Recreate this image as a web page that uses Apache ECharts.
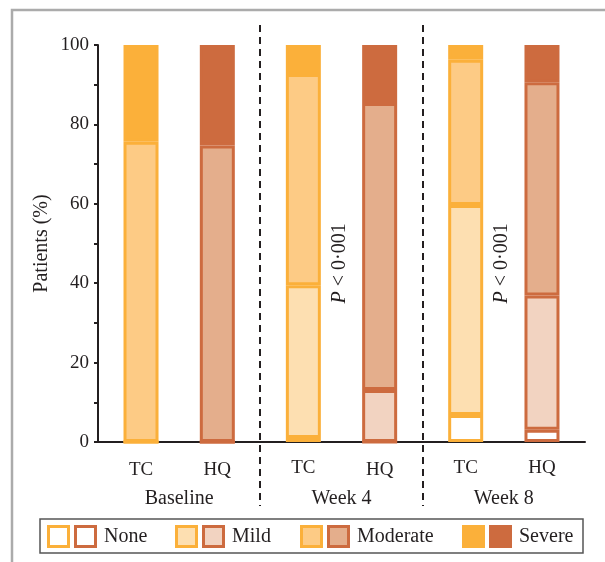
<!DOCTYPE html>
<html>
<head>
<meta charset="utf-8">
<script src="https://cdn.jsdelivr.net/npm/echarts@6/dist/echarts.min.js"></script>
<style>
  html, body { margin: 0; padding: 0; background: #fff; }
  #chart { width: 605px; height: 562px; }
</style>
</head>
<body>
<div id="chart"></div>
<script>
// Severity of patients (%) per visit, stacked for each treatment arm
const groups = ['Baseline', 'Week 4', 'Week 8'];
const levels = ['None', 'Mild', 'Moderate', 'Severe'];
const arms = ['TC', 'HQ'];

const tcNone = [0, 1, 6.8];
const tcMild = [0, 38.5, 52.9];
const tcModerate = [75.6, 53.2, 36.6];
const tcSevere = [24.4, 7.3, 3.7];

const hqNone = [0, 0, 3.1];
const hqMild = [0, 13.1, 33.8];
const hqModerate = [74.7, 72.3, 53.7];
const hqSevere = [25.3, 14.6, 9.4];

const pLabel = 'P < 0·001';
const pGroups = ['Week 4', 'Week 8'];
const pLevel = 45;

const yTicks = [0, 20, 40, 60, 80, 100];

const SERIF = '"Liberation Serif", "DejaVu Serif", serif';
const INK = '#231F20';

const armStyle = {
  TC: { border: '#FBB03A', fills: ['#FFFFFF', '#FDDFB1', '#FDCB85', '#FBB03A'] },
  HQ: { border: '#CD6B3F', fills: ['#FFFFFF', '#F2D3C1', '#E4AE8C', '#CD6B3F'] }
};

const armData = {
  TC: [tcNone, tcMild, tcModerate, tcSevere],
  HQ: [hqNone, hqMild, hqModerate, hqSevere]
};

const series = [];
arms.forEach(function (arm) {
  levels.forEach(function (level, li) {
    const s = {
      name: arm + ' ' + level,
      type: 'bar',
      stack: arm,
      barWidth: 35,
      barGap: '118%',
      data: armData[arm][li],
      itemStyle: {
        color: armStyle[arm].fills[li],
        borderColor: armStyle[arm].border,
        borderWidth: 3
      },
      emphasis: { disabled: true }
    };
    if (li === 0) {
      s.label = {
        show: true,
        position: 'bottom',
        distance: 17,
        formatter: arm,
        color: INK,
        fontFamily: SERIF,
        fontSize: 19
      };
    }
    series.push(s);
  });
});

const chart = echarts.init(document.getElementById('chart'));

chart.setOption({
  animation: false,
  backgroundColor: '#fff',
  grid: { left: 98, right: 20, top: 45, bottom: 120 },
  xAxis: {
    type: 'category',
    data: groups,
    boundaryGap: true,
    axisLine: { lineStyle: { color: INK, width: 2 } },
    axisTick: { show: false },
    axisLabel: { color: INK, fontFamily: SERIF, fontSize: 20, margin: 47 }
  },
  yAxis: {
    type: 'value',
    min: 0,
    max: 100,
    interval: 20,
    name: 'Patients (%)',
    nameLocation: 'middle',
    nameGap: 46,
    nameMoveOverlap: false,
    nameTextStyle: { color: INK, fontFamily: SERIF, fontSize: 20 },
    axisLine: { show: true, lineStyle: { color: INK, width: 2 } },
    axisTick: { show: true, length: 4, lineStyle: { color: INK, width: 2 } },
    minorTick: { show: true, splitNumber: 2, length: 4, lineStyle: { color: INK, width: 2 } },
    splitLine: { show: false },
    axisLabel: {
      color: INK, fontFamily: SERIF, fontSize: 19, margin: 9,
      formatter: function (v) { return yTicks.indexOf(v) >= 0 ? String(v) : ''; }
    }
  },
  series: series
});

// Overlay: frame, separators between visits, P-value notes and legend
const graphics = [];

graphics.push({
  type: 'rect',
  shape: { x: 12, y: 10, width: 620, height: 580 },
  style: { fill: 'none', stroke: '#ABABAB', lineWidth: 2.5 },
  silent: true, z: 0
});

for (let i = 0; i < groups.length - 1; i++) {
  const a = chart.convertToPixel({ xAxisIndex: 0 }, groups[i]);
  const b = chart.convertToPixel({ xAxisIndex: 0 }, groups[i + 1]);
  const x = Math.round((a + b) / 2);
  graphics.push({
    type: 'line',
    shape: { x1: x, y1: 25, x2: x, y2: 506 },
    style: { stroke: INK, lineWidth: 2, lineDash: [7, 5] },
    silent: true, z: 10
  });
}

pGroups.forEach(function (g) {
  const pt = chart.convertToPixel({ xAxisIndex: 0, yAxisIndex: 0 }, [g, pLevel]);
  const parts = pLabel.split(' ');
  graphics.push({
    type: 'text',
    x: pt[0] - 2,
    y: pt[1],
    rotation: Math.PI / 2,
    style: {
      text: '{i|' + parts[0] + '} ' + parts.slice(1).join(' '),
      rich: { i: { fontStyle: 'italic', fontFamily: SERIF, fontSize: 20, fill: INK } },
      fill: INK,
      fontFamily: SERIF,
      fontSize: 20,
      align: 'center',
      verticalAlign: 'middle'
    },
    silent: true, z: 10
  });
});

// Legend box with paired TC/HQ swatches
graphics.push({
  type: 'rect',
  shape: { x: 40, y: 519, width: 543, height: 34 },
  style: { fill: '#fff', stroke: '#555', lineWidth: 1.5 },
  silent: true, z: 10
});
const legendX = [47, 175, 300, 462];
levels.forEach(function (level, li) {
  const x0 = legendX[li];
  arms.forEach(function (arm, ai) {
    graphics.push({
      type: 'rect',
      shape: { x: x0 + 1.5 + ai * 27, y: 526.5, width: 20, height: 20 },
      style: { fill: armStyle[arm].fills[li], stroke: armStyle[arm].border, lineWidth: 3 },
      silent: true, z: 11
    });
  });
  graphics.push({
    type: 'text',
    x: x0 + 57,
    y: 537,
    style: {
      text: level, fill: INK, fontFamily: SERIF, fontSize: 20,
      align: 'left', verticalAlign: 'middle'
    },
    silent: true, z: 11
  });
});

chart.setOption({ graphic: graphics });
</script>
</body>
</html>
